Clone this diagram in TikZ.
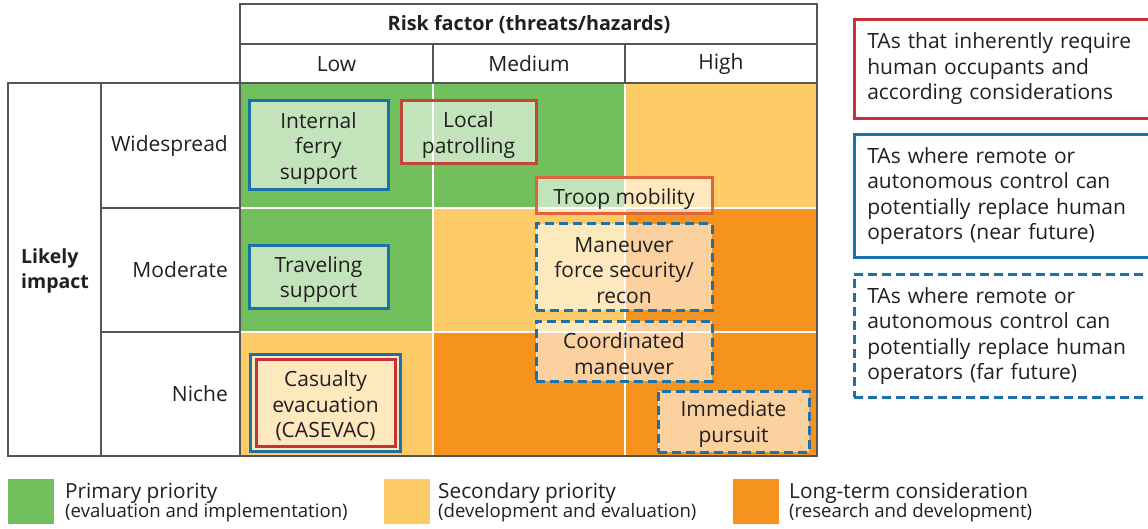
\documentclass[tikz,border=0pt]{standalone}
\usepackage{fontspec}
\setmainfont{Open Sans}
\newcommand{\dnstrut}{\rule{0pt}{21.5pt}}
\definecolor{cgreen}{HTML}{72BF5D}
\definecolor{cyellow}{HTML}{FDCB67}
\definecolor{corange}{HTML}{F6921E}
\definecolor{cblue}{HTML}{1A72A8}
\definecolor{cred}{HTML}{C8303A}
\definecolor{cbrick}{HTML}{C0473A}
\definecolor{ctroop}{HTML}{DE663C}
\definecolor{cgrid}{HTML}{555555}
\definecolor{ctext}{HTML}{231F20}
\tikzset{
  tline/.style={draw=cgrid, line width=1.5pt},
  cell/.style={draw=white, line width=2pt},
  lbl/.style={font=\fontsize{21}{25}\selectfont, text=ctext, inner sep=0pt},
  tabox/.style={rectangle, fill=white, fill opacity=0.58, text opacity=1, draw opacity=1,
     line width=3pt, align=center, inner sep=0pt, text=ctext,
     font=\fontsize{21}{25.5}\selectfont},
  solidblue/.style={tabox, draw=cblue},
  dashblue/.style={tabox, draw=cblue, dash pattern=on 9pt off 5pt},
  legbox/.style={rectangle, fill=white, line width=2.6pt, align=left, inner ysep=0pt, inner xsep=13pt,
     text=ctext, font=\fontsize{21}{25.5}\selectfont, anchor=north west,
     minimum width=300pt, text width=274pt},
  swatch/.style={rectangle, minimum width=46pt, minimum height=45pt, inner sep=0pt, anchor=north west},
  legtitle/.style={lbl, anchor=base west, font=\fontsize{20.8}{24}\selectfont},
  legsub/.style={lbl, anchor=base west, font=\fontsize{18.6}{22}\selectfont},
}
\begin{document}
\begin{tikzpicture}[x=1pt,y=-1pt]
\useasboundingbox[fill=white] (0,0) rectangle (1148,529);
% colored grid
\fill[cgreen,cell] (240,83) rectangle (433,208);
\fill[cgreen,cell] (433,83) rectangle (625,208);
\fill[cyellow,cell] (625,83) rectangle (817,208);
\fill[cgreen,cell] (240,208) rectangle (433,332);
\fill[cyellow,cell] (433,208) rectangle (625,332);
\fill[corange,cell] (625,208) rectangle (817,332);
\fill[cyellow,cell] (240,332) rectangle (433,456);
\fill[corange,cell] (433,332) rectangle (625,456);
\fill[corange,cell] (625,332) rectangle (817,456);
\draw[tline] (240,83) rectangle (817,456);
% header table
\draw[tline] (240,4) rectangle (817,83);
\draw[tline] (240,44) -- (817,44);
\draw[tline] (433,44) -- (433,83);
\draw[tline] (625,44) -- (625,83);
\node[lbl, font=\fontsize{19.8}{25}\selectfont\bfseries] (risk) at (529,24) {Risk factor (threats/hazards)};
\node[lbl] (low) at (336.5,64) {Low};
\node[lbl] (med) at (529,64) {Medium};
\node[lbl] (high) at (721,64) {High};
% left table
\draw[tline] (8,83) rectangle (240,456);
\draw[tline] (101,83) -- (101,456);
\draw[tline] (101,208) -- (240,208);
\draw[tline] (101,332) -- (240,332);
\node[lbl, font=\fontsize{19.5}{25}\selectfont\bfseries, align=left, anchor=west] (likely) at (21,271) {Likely\\impact};
\node[lbl, anchor=east] (wide) at (228,146) {Widespread};
\node[lbl, anchor=east] (moder) at (228,270) {Moderate};
\node[lbl, anchor=east] (niche) at (228,394) {Niche};
% TA boxes
\node[solidblue, minimum width=139pt, minimum height=89pt] (ferry) at (318.5,145.5) {\dnstrut Internal\\ferry\\support};
\node[tabox, draw=cbrick, minimum width=135pt, minimum height=63pt] (patrol) at (468.5,132.5) {\dnstrut Local\\patrolling};
\node[tabox, draw=ctroop, minimum width=176pt, minimum height=36pt] (troop) at (624,196) {\dnstrut Troop mobility};
\node[dashblue, minimum width=176pt, minimum height=86pt] (maneuver) at (624,267) {\dnstrut Maneuver\\force security/\\recon};
\node[dashblue, minimum width=176pt, minimum height=60pt] (coord) at (624,351) {\dnstrut Coordinated\\maneuver};
\node[dashblue, minimum width=151pt, minimum height=61pt] (pursuit) at (733.5,421.5) {\dnstrut Immediate\\pursuit};
\node[solidblue, minimum width=139pt, minimum height=62pt] (travel) at (318.5,277) {\dnstrut Traveling\\support};
\node[tabox, draw=cblue, minimum width=150pt, minimum height=97pt] (casevacout) at (325,402.5) {};
\node[tabox, draw=cred, fill opacity=0, minimum width=139pt, minimum height=87pt] (casevac) at (325.5,403) {\dnstrut Casualty\\evacuation\\(CASEVAC)};
% right legend
\node[legbox, draw=cred, minimum height=99pt] (legred) at (853,18) {TAs that inherently require\\human occupants and\\according considerations};
\node[legbox, draw=cblue, minimum height=123pt] (legblue) at (853,133) {TAs where remote or\\autonomous control can\\potentially replace human\\operators (near future)};
\node[legbox, draw=cblue, dash pattern=on 9pt off 5pt, minimum height=123pt] (legdash) at (853,273) {TAs where remote or\\autonomous control can\\potentially replace human\\operators (far future)};
% bottom legend
\node[swatch, fill=cgreen] (sgreen) at (8,479) {};
\node[swatch, fill=cyellow] (syellow) at (384,479) {};
\node[swatch, fill=corange] (sorange) at (733,479) {};
\node[legtitle] (tgreen) at (65,498) {Primary priority};
\node[legsub] (sbgreen) at (65,517) {(evaluation and implementation)};
\node[legtitle] (tyellow) at (438,498) {Secondary priority};
\node[legsub] (sbyellow) at (438,517) {(development and evaluation)};
\node[legtitle] (torange) at (789,498) {Long-term consideration};
\node[legsub] (sborange) at (789,517) {(research and development)};
\end{tikzpicture}
\end{document}
